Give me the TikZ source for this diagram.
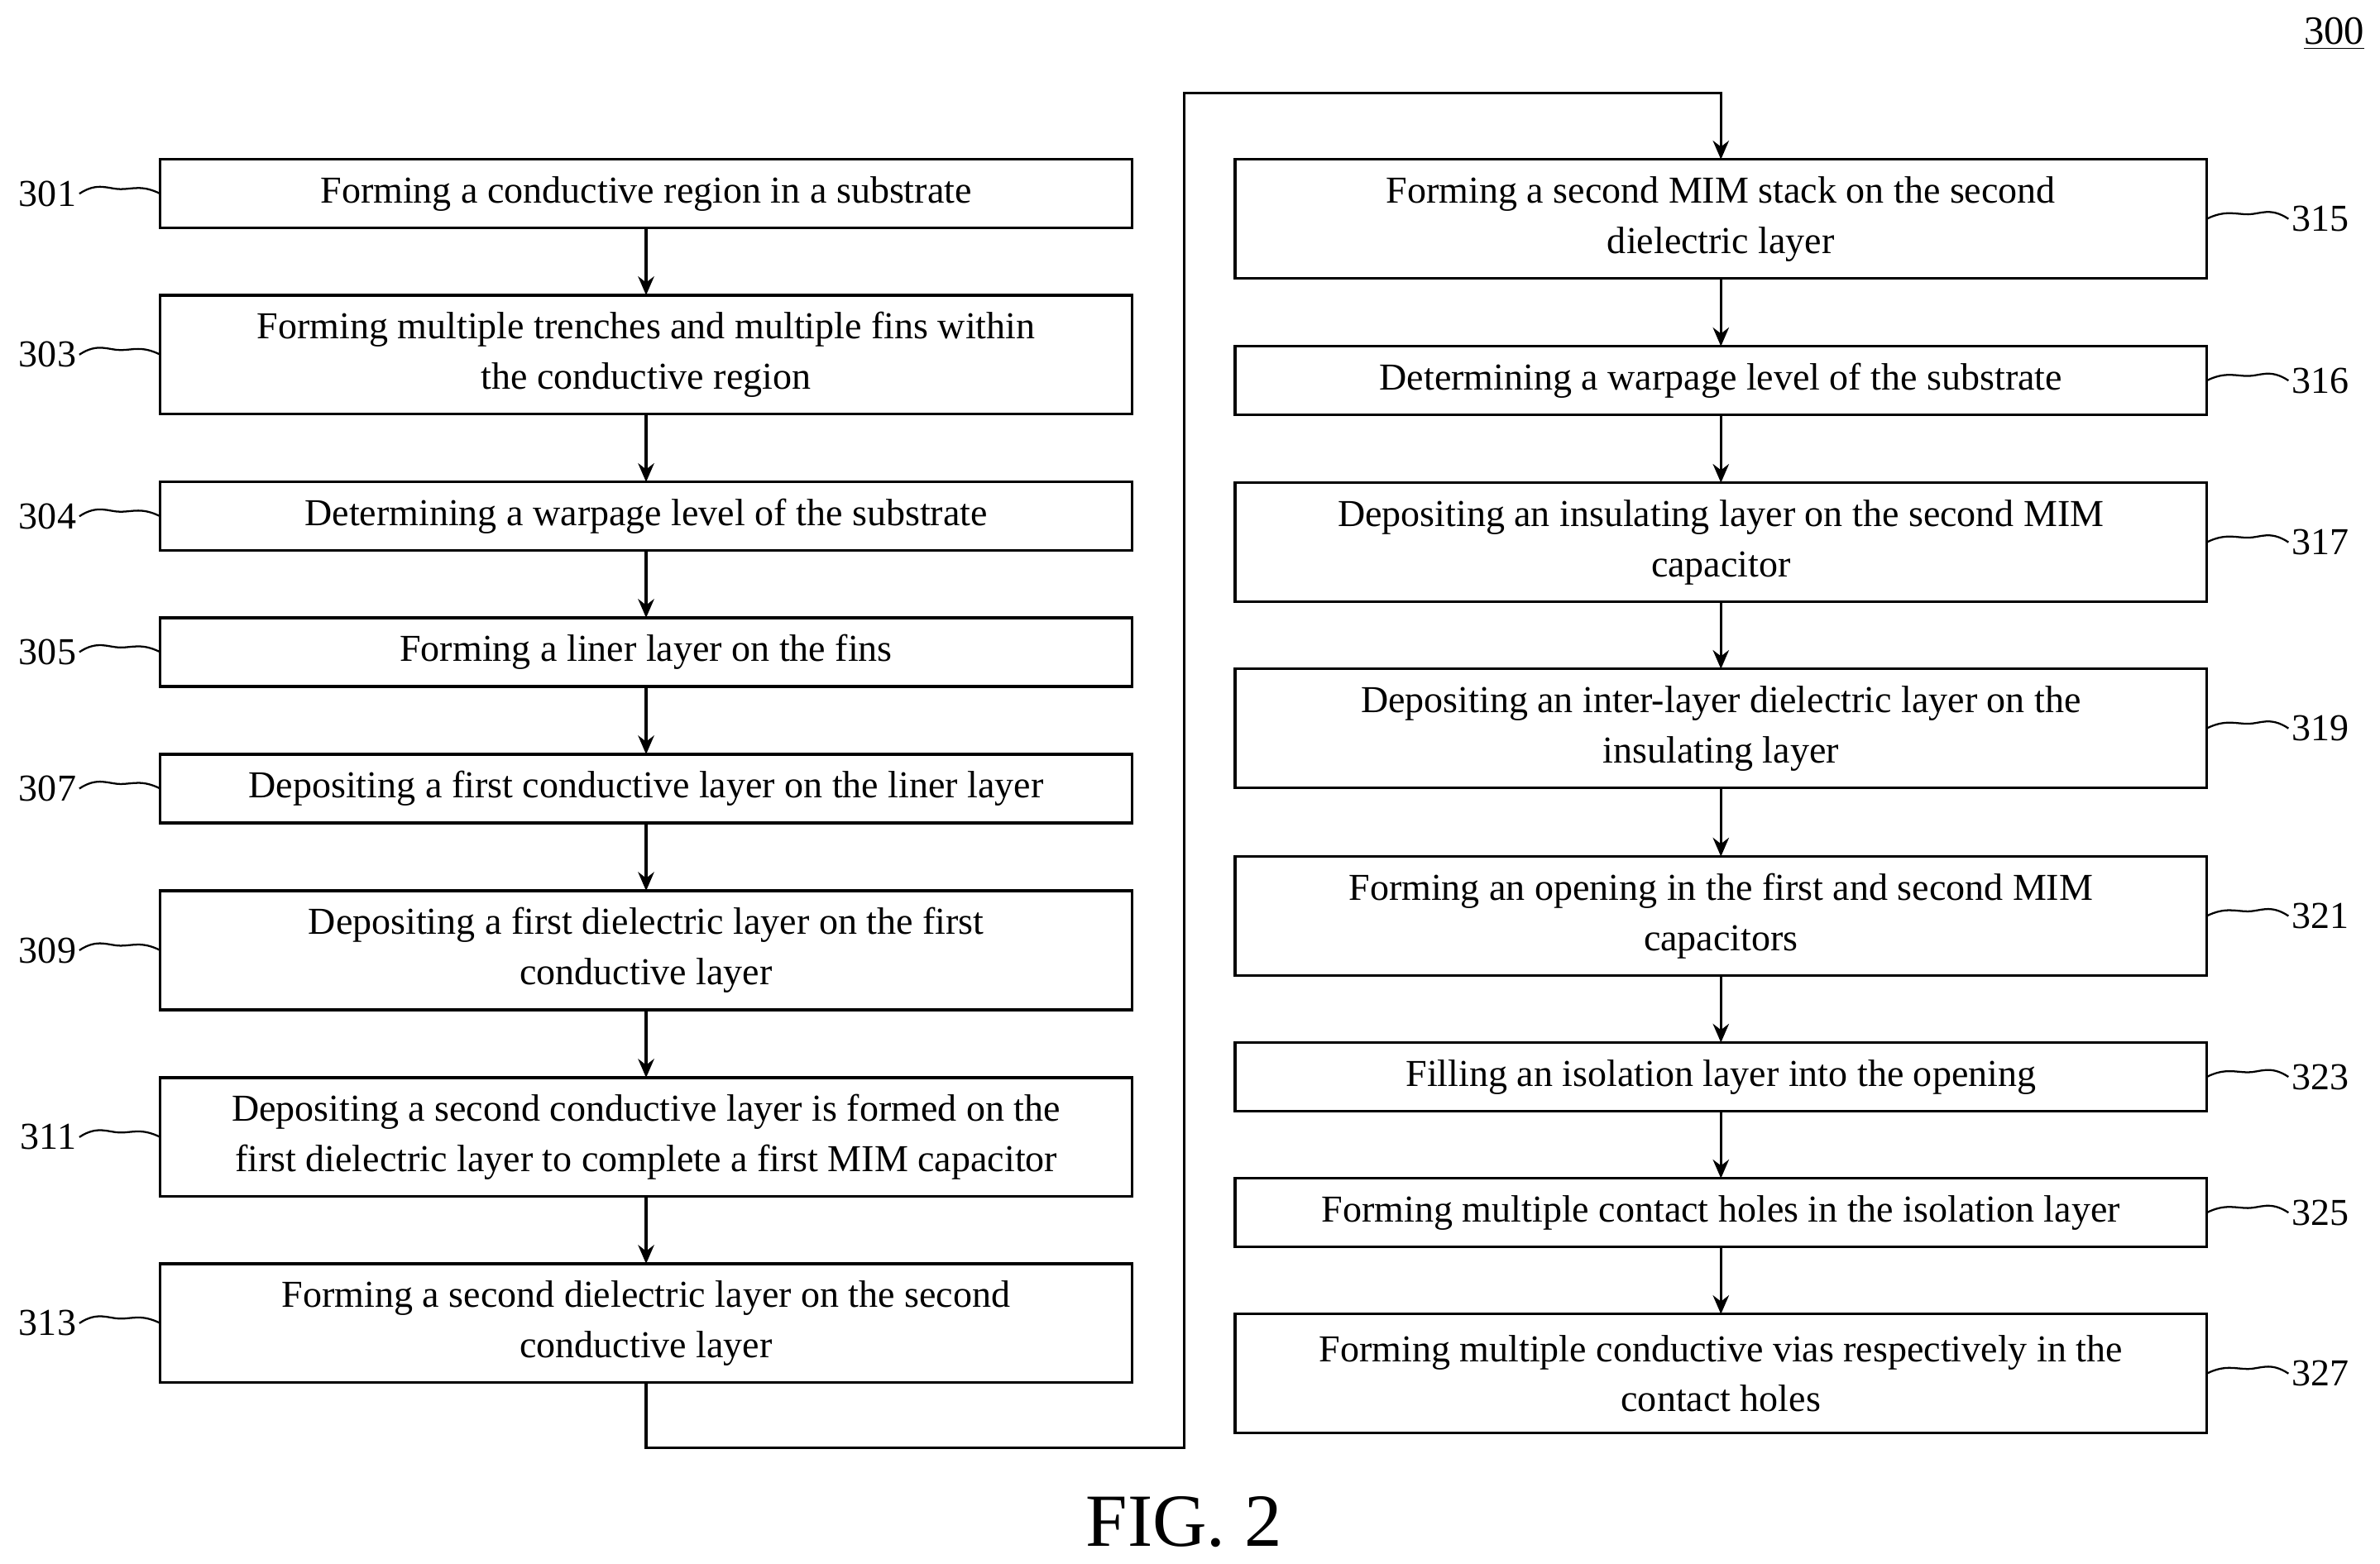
\documentclass[tikz,border=0pt]{standalone}
\usepackage{fontspec}
\setmainfont{Liberation Serif}
\usetikzlibrary{arrows.meta}
\begin{document}
\begin{tikzpicture}[x=0.02cm,y=-0.02cm,
  box/.style={draw,line width=1pt,minimum width=12.74cm,inner sep=0pt,outer sep=0pt,align=center,font=\fontsize{14.2}{18.8}\selectfont},
  one/.style={box,minimum height=0.9cm},
  two/.style={box,minimum height=1.56cm},
  lab/.style={font=\fontsize{14.2}{17}\selectfont,inner sep=1pt},
  arr/.style={line width=1pt,-{Stealth[length=7pt,width=6pt]}},
  sq/.style={line width=0.7pt}]
\useasboundingbox (0,0) rectangle (1560,1025);
% left column
\node[one] (b301) at (423.5,127) {Forming a conductive region in a substrate};
\node[two] (b303) at (423.5,232.5) {Forming multiple trenches and multiple fins within\\the conductive region};
\node[one] (b304) at (423.5,338.5) {Determining a warpage level of the substrate};
\node[one] (b305) at (423.5,427.5) {Forming a liner layer on the fins};
\node[one] (b307) at (423.5,517) {Depositing a first conductive layer on the liner layer};
\node[two] (b309) at (423.5,623) {Depositing a first dielectric layer on the first\\conductive layer};
\node[two] (b311) at (423.5,745.5) {Depositing a second conductive layer is formed on the\\first dielectric layer to complete a first MIM capacitor};
\node[two] (b313) at (423.5,867.5) {Forming a second dielectric layer on the second\\conductive layer};
% right column
\node[two] (b315) at (1128,143.5) {Forming a second MIM stack on the second\\dielectric layer};
\node[one] (b316) at (1128,249.5) {Determining a warpage level of the substrate};
\node[two] (b317) at (1128,355.5) {Depositing an insulating layer on the second MIM\\capacitor};
\node[two] (b319) at (1128,477.5) {Depositing an inter-layer dielectric layer on the\\insulating layer};
\node[two] (b321) at (1128,600.5) {Forming an opening in the first and second MIM\\capacitors};
\node[one] (b323) at (1128,706) {Filling an isolation layer into the opening};
\node[one] (b325) at (1128,795) {Forming multiple contact holes in the isolation layer};
\node[two] (b327) at (1128,900.5) {Forming multiple conductive vias respectively in the\\contact holes};
% arrows
\foreach \a/\b in {301/303,303/304,304/305,305/307,307/309,309/311,311/313,315/316,316/317,317/319,319/321,321/323,323/325,325/327}
  \draw[arr] (b\a) -- (b\b);
\coordinate (c1) at (423.5,949);
\coordinate (c2) at (776,949);
\coordinate (c3) at (776,61);
\coordinate (c4) at (1128,61);
\draw[arr] (b313.south) -- (c1) -- (c2) -- (c3) -- (c4) -- (b315.north);
% left labels
\foreach \n/\y in {301/127,303/232.5,304/338.5,305/427.5,307/517,309/623,311/745.5,313/867.5}{
  \node[lab,anchor=east] (l\n) at (52,\y) {\n};
  \draw[sq] (l\n.east) .. controls +(12,-8) and +(-8,0) .. ++(27,-3) .. controls +(8,0) and +(-12,-6) .. (b\n.west);
}
% right labels
\foreach \n/\y in {315/143.5,316/249.5,317/355.5,319/477.5,321/600.5,323/706,325/795,327/900.5}{
  \node[lab,anchor=west] (l\n) at (1500,\y) {\n};
  \draw[sq] (b\n.east) .. controls +(12,-6) and +(-8,0) .. ++(27,-3) .. controls +(8,0) and +(-12,-8) .. (l\n.west);
}
\node[lab,font=\fontsize{15}{18}\selectfont] (n300) at (1530,22) {\underline{300}};
\node[font=\fontsize{28}{32}\selectfont] (fig) at (776,998) {FIG. 2};
\end{tikzpicture}
\end{document}
